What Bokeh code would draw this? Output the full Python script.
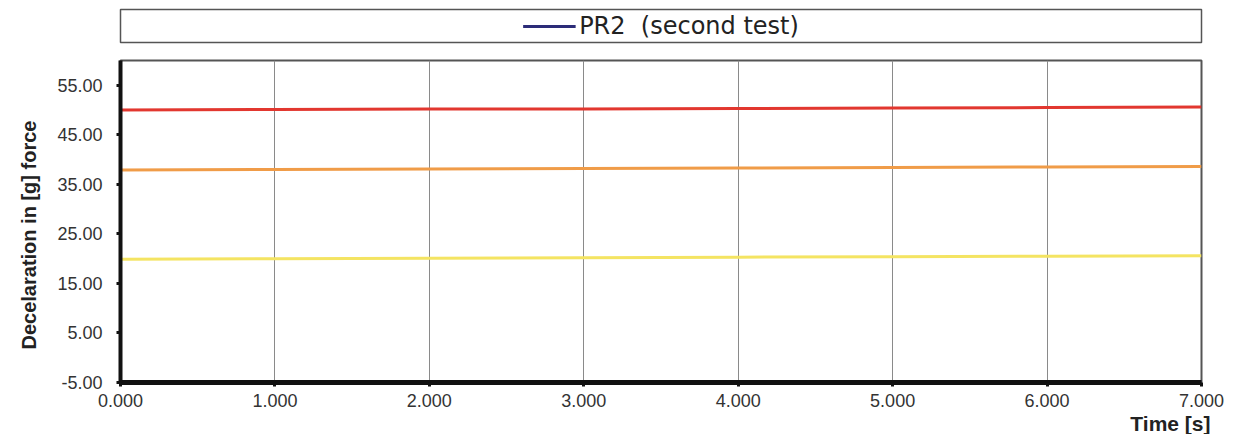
from bokeh.plotting import figure
from bokeh.layouts import column
from bokeh.models import (Range1d, FixedTicker, NumeralTickFormatter, Legend,
                          LegendItem, Title)
from bokeh.embed import file_html
from bokeh.resources import INLINE

# ---- data ----
time_s = [0.0, 1.0, 2.0, 3.0, 4.0, 5.0, 6.0, 7.0]
red_series = [50.0, 50.1, 50.2, 50.2, 50.3, 50.4, 50.5, 50.6]
orange_series = [37.9, 38.0, 38.1, 38.2, 38.3, 38.4, 38.5, 38.6]
yellow_series = [19.9, 20.0, 20.1, 20.2, 20.3, 20.4, 20.5, 20.6]
pr2_series = [-4.8, -4.8, -4.8, -4.8, -4.8, -4.8, -4.8, -4.8]
y_ticks = [-5, 5, 15, 25, 35, 45, 55]
x_ticks = [0, 1, 2, 3, 4, 5, 6, 7]
legend_label = "PR2  (second test)"
x_title = "Time [s]"
y_title = "Decelaration in [g]  force"

FONT = "Liberation Sans"
PR2_COLOR = "#2c2c78"
W = 1226

# ---- legend box (top strip) ----
top = figure(width=W, height=52, x_range=Range1d(0, 1), y_range=Range1d(0, 1),
             output_backend="svg", toolbar_location=None,
             x_axis_location=None, y_axis_location=None,
             min_border_left=118, min_border_right=25,
             min_border_top=9, min_border_bottom=10)
top.grid.visible = False
top.outline_line_color = "#555555"
top.outline_line_width = 1.5
# legend swatch renderer (kept outside the visible range)
r_leg = top.line(x=[-5, -4], y=[-5, -5], line_color=PR2_COLOR, line_width=3)
leg = Legend(items=[LegendItem(label=legend_label, renderers=[r_leg])],
             location="center", border_line_alpha=0, background_fill_alpha=0,
             label_text_font="DejaVu Sans", label_text_font_size="24px",
             label_text_color="#222222", glyph_width=53, label_standoff=4,
             padding=0, margin=0)
top.add_layout(leg, "center")

# ---- main chart ----
p = figure(width=W, height=382, x_range=Range1d(0, 7), y_range=Range1d(-5, 60),
           output_backend="svg", toolbar_location=None,
           min_border_left=120, min_border_right=25,
           min_border_top=8, min_border_bottom=51)

p.line(time_s, red_series, line_color="#e2372f", line_width=3)
p.line(time_s, orange_series, line_color="#f09c48", line_width=3)
p.line(time_s, yellow_series, line_color="#f4e462", line_width=3)
p.line(time_s, pr2_series, line_color=PR2_COLOR, line_width=2)

p.outline_line_color = "#555555"
p.outline_line_width = 2

p.ygrid.visible = False
p.xgrid.ticker = FixedTicker(ticks=x_ticks)
p.xgrid.grid_line_color = "#8a8a8a"
p.xgrid.grid_line_width = 1

p.xaxis.ticker = FixedTicker(ticks=x_ticks)
p.yaxis.ticker = FixedTicker(ticks=y_ticks)
p.xaxis.formatter = NumeralTickFormatter(format="0.000")
p.yaxis.formatter = NumeralTickFormatter(format="0.00")

for ax in (p.xaxis[0], p.yaxis[0]):
    ax.axis_line_color = "#111111"
    ax.major_tick_line_color = "#111111"
    ax.major_tick_line_width = 3
    ax.major_tick_in = 0
    ax.major_tick_out = 4
    ax.minor_tick_line_color = None
    ax.major_label_text_font = FONT
    ax.major_label_text_font_size = "18px"
    ax.major_label_text_color = "#333333"

p.xaxis.axis_line_width = 5
p.yaxis.axis_line_width = 4
p.xaxis.major_label_standoff = 7
p.yaxis.major_label_standoff = 14

# y-axis title (side title, anchored near the bottom of the frame)
p.add_layout(Title(text=y_title, align="left", offset=33, standoff=30,
                   text_font=FONT, text_font_size="20px",
                   text_font_style="bold", text_color="#222222"), "left")

p.add_layout(Title(text=x_title, align="right", offset=-9, standoff=0,
                   text_font=FONT, text_font_size="21px",
                   text_font_style="bold", text_color="#222222"), "below")

layout = column(top, p, spacing=0)
open("out.html", "w").write(file_html(layout, INLINE))
